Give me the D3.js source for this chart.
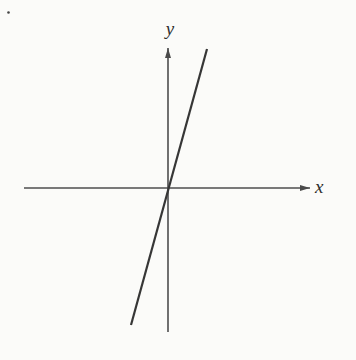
<!DOCTYPE html>
<html>
<head>
<meta charset="utf-8">
<script src="https://cdn.jsdelivr.net/npm/d3@7"></script>
<style>
  html, body { margin: 0; padding: 0; background: #fbfbf9; }
  svg { display: block; }
</style>
</head>
<body>
<svg id="chart"></svg>
<script>
// axis extents in data units
const xAxisRange = [-7.2, 7.1];
const yAxisRange = [-7.2, 7.0];
// the line y = k x, drawn between these two points
const lineX = [-1.85, 1.95];
const lineY = [-6.85, 6.95];
const axisLabels = ["x", "y"];

const width = 356, height = 360;
const origin = {x: 168, y: 188};
const unit = 20;

const svg = d3.select("#chart")
    .attr("width", width)
    .attr("height", height);

const x = d3.scaleLinear()
    .domain([0, 1])
    .range([origin.x, origin.x + unit]);
const y = d3.scaleLinear()
    .domain([0, 1])
    .range([origin.y, origin.y - unit]);

svg.append("defs").append("marker")
    .attr("id", "arrow")
    .attr("viewBox", "0 0 10 6")
    .attr("refX", 10)
    .attr("refY", 3)
    .attr("markerWidth", 10)
    .attr("markerHeight", 6)
    .attr("markerUnits", "userSpaceOnUse")
    .attr("orient", "auto")
    .append("path")
    .attr("d", "M0,0L10,3L0,6Z")
    .attr("fill", "#4a4a4a");

// stray speck from the scan
svg.append("circle")
    .attr("cx", 8.5).attr("cy", 12.5).attr("r", 1.3)
    .attr("fill", "#444");

// x axis
svg.append("line")
    .attr("x1", x(xAxisRange[0])).attr("y1", y(0))
    .attr("x2", x(xAxisRange[1])).attr("y2", y(0))
    .attr("stroke", "#4e4e4e")
    .attr("stroke-width", 1.6)
    .attr("marker-end", "url(#arrow)");

// y axis
svg.append("line")
    .attr("x1", x(0)).attr("y1", y(yAxisRange[0]))
    .attr("x2", x(0)).attr("y2", y(yAxisRange[1]))
    .attr("stroke", "#4e4e4e")
    .attr("stroke-width", 1.6)
    .attr("marker-end", "url(#arrow)");

// the line
svg.append("path")
    .datum(lineX.map((d, i) => [d, lineY[i]]))
    .attr("d", d3.line().x(d => x(d[0])).y(d => y(d[1])))
    .attr("fill", "none")
    .attr("stroke", "#363636")
    .attr("stroke-width", 2.2);

// labels
svg.append("text")
    .attr("x", x(xAxisRange[1]) + 5)
    .attr("y", y(0) + 5)
    .attr("font-family", "'Liberation Serif', 'DejaVu Serif', serif")
    .attr("font-style", "italic")
    .attr("font-size", 19)
    .attr("fill", "#2e2e2e")
    .text(axisLabels[0]);

svg.append("text")
    .attr("x", x(0) + 2)
    .attr("y", y(yAxisRange[1]) - 13)
    .attr("text-anchor", "middle")
    .attr("font-family", "'Liberation Serif', 'DejaVu Serif', serif")
    .attr("font-style", "italic")
    .attr("font-size", 19)
    .attr("fill", "#2e2e2e")
    .text(axisLabels[1]);
</script>
</body>
</html>
